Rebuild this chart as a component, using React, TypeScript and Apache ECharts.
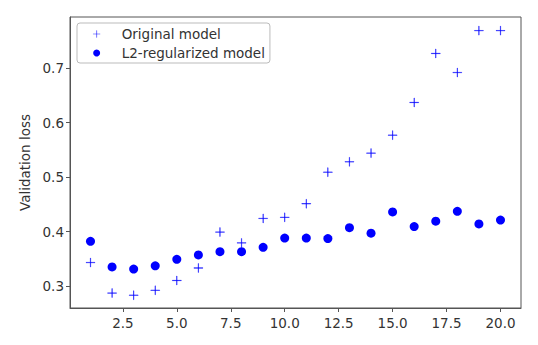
import React, { useEffect, useRef } from "react";
import * as echarts from "echarts";

const epochs = [1, 2, 3, 4, 5, 6, 7, 8, 9, 10, 11, 12, 13, 14, 15, 16, 17, 18, 19, 20];
const originalLoss = [0.343, 0.287, 0.283, 0.292, 0.31, 0.333, 0.399, 0.379, 0.424, 0.426, 0.451, 0.509, 0.528, 0.544, 0.577, 0.637, 0.727, 0.692, 0.769, 0.769];
const l2Loss = [0.382, 0.335, 0.331, 0.337, 0.349, 0.357, 0.363, 0.363, 0.371, 0.388, 0.388, 0.387, 0.407, 0.397, 0.436, 0.409, 0.419, 0.437, 0.414, 0.421];
const xTicks = [2.5, 5, 7.5, 10, 12.5, 15, 17.5, 20];
const yTicks = [0.3, 0.4, 0.5, 0.6, 0.7];
const seriesNames = ["Original model", "L2-regularized model"];

const PLUS = "path://M0,4.35H9V4.65H0Z M4.35,0H4.65V9H4.35Z";

export default function App() {
  const ref = useRef<HTMLDivElement>(null);
  useEffect(() => {
    if (!ref.current) return;
    const chart = echarts.init(ref.current, null, { renderer: "svg" });
    const font = "DejaVu Sans";
    const textColor = "#333";
    const fs = 13.5;
    chart.setOption({
      animation: false,
      backgroundColor: "#fff",
      textStyle: { fontFamily: font },
      grid: {
        left: 70,
        right: 17,
        top: 17,
        bottom: 37,
        show: true,
        borderColor: "#555",
        borderWidth: 1,
        backgroundColor: "transparent",
      },
      legend: {
        left: 77,
        top: 23,
        orient: "vertical",
        padding: [3, 5, 2, 16],
        itemWidth: 40,
        itemHeight: 7,
        itemGap: 3,
        borderColor: "#bbb",
        borderWidth: 1,
        borderRadius: 3,
        backgroundColor: "#fff",
        textStyle: { fontFamily: font, fontSize: fs, color: textColor, lineHeight: 16 },
        data: [
          { name: seriesNames[0], icon: PLUS, itemStyle: { borderWidth: 0.3 } },
          { name: seriesNames[1], icon: "circle" },
        ],
      },
      xAxis: {
        type: "value",
        min: 0.05,
        max: 20.95,
        splitLine: { show: false },
        axisLine: { show: true, onZero: false, lineStyle: { color: "#555" } },
        axisTick: { show: true, inside: false, length: 4, lineStyle: { color: "#555" }, customValues: xTicks },
        axisLabel: {
          color: textColor,
          fontSize: fs,
          fontFamily: font,
          margin: 8,
          customValues: xTicks,
          formatter: (v: number) => v.toFixed(1),
        },
      },
      yAxis: {
        type: "value",
        min: 0.2595,
        max: 0.794,
        name: "Validation loss",
        nameLocation: "middle",
        nameGap: 38,
        nameTextStyle: { color: textColor, fontSize: fs, fontFamily: font },
        splitLine: { show: false },
        axisLine: { show: true, onZero: false, lineStyle: { color: "#555" } },
        axisTick: { show: true, inside: false, length: 4, lineStyle: { color: "#555" }, customValues: yTicks },
        axisLabel: {
          color: textColor,
          fontSize: fs,
          fontFamily: font,
          margin: 6,
          customValues: yTicks,
          formatter: (v: number) => v.toFixed(1),
        },
      },
      series: [
        {
          name: seriesNames[0],
          type: "scatter",
          symbol: PLUS,
          symbolSize: 9,
          itemStyle: { color: "#0000ff", borderColor: "#0000ff", borderWidth: 0.6 },
          data: epochs.map((e, i) => [e, originalLoss[i]]),
        },
        {
          name: seriesNames[1],
          type: "scatter",
          symbol: "circle",
          symbolSize: 9,
          itemStyle: { color: "#0000ff", opacity: 1 },
          data: epochs.map((e, i) => [e, l2Loss[i]]),
        },
      ],
    });
    return () => chart.dispose();
  }, []);
  return (
    <div
      ref={ref}
      style={{ position: "fixed", left: 0, top: 0, width: 538, height: 345 }}
    />
  );
}
